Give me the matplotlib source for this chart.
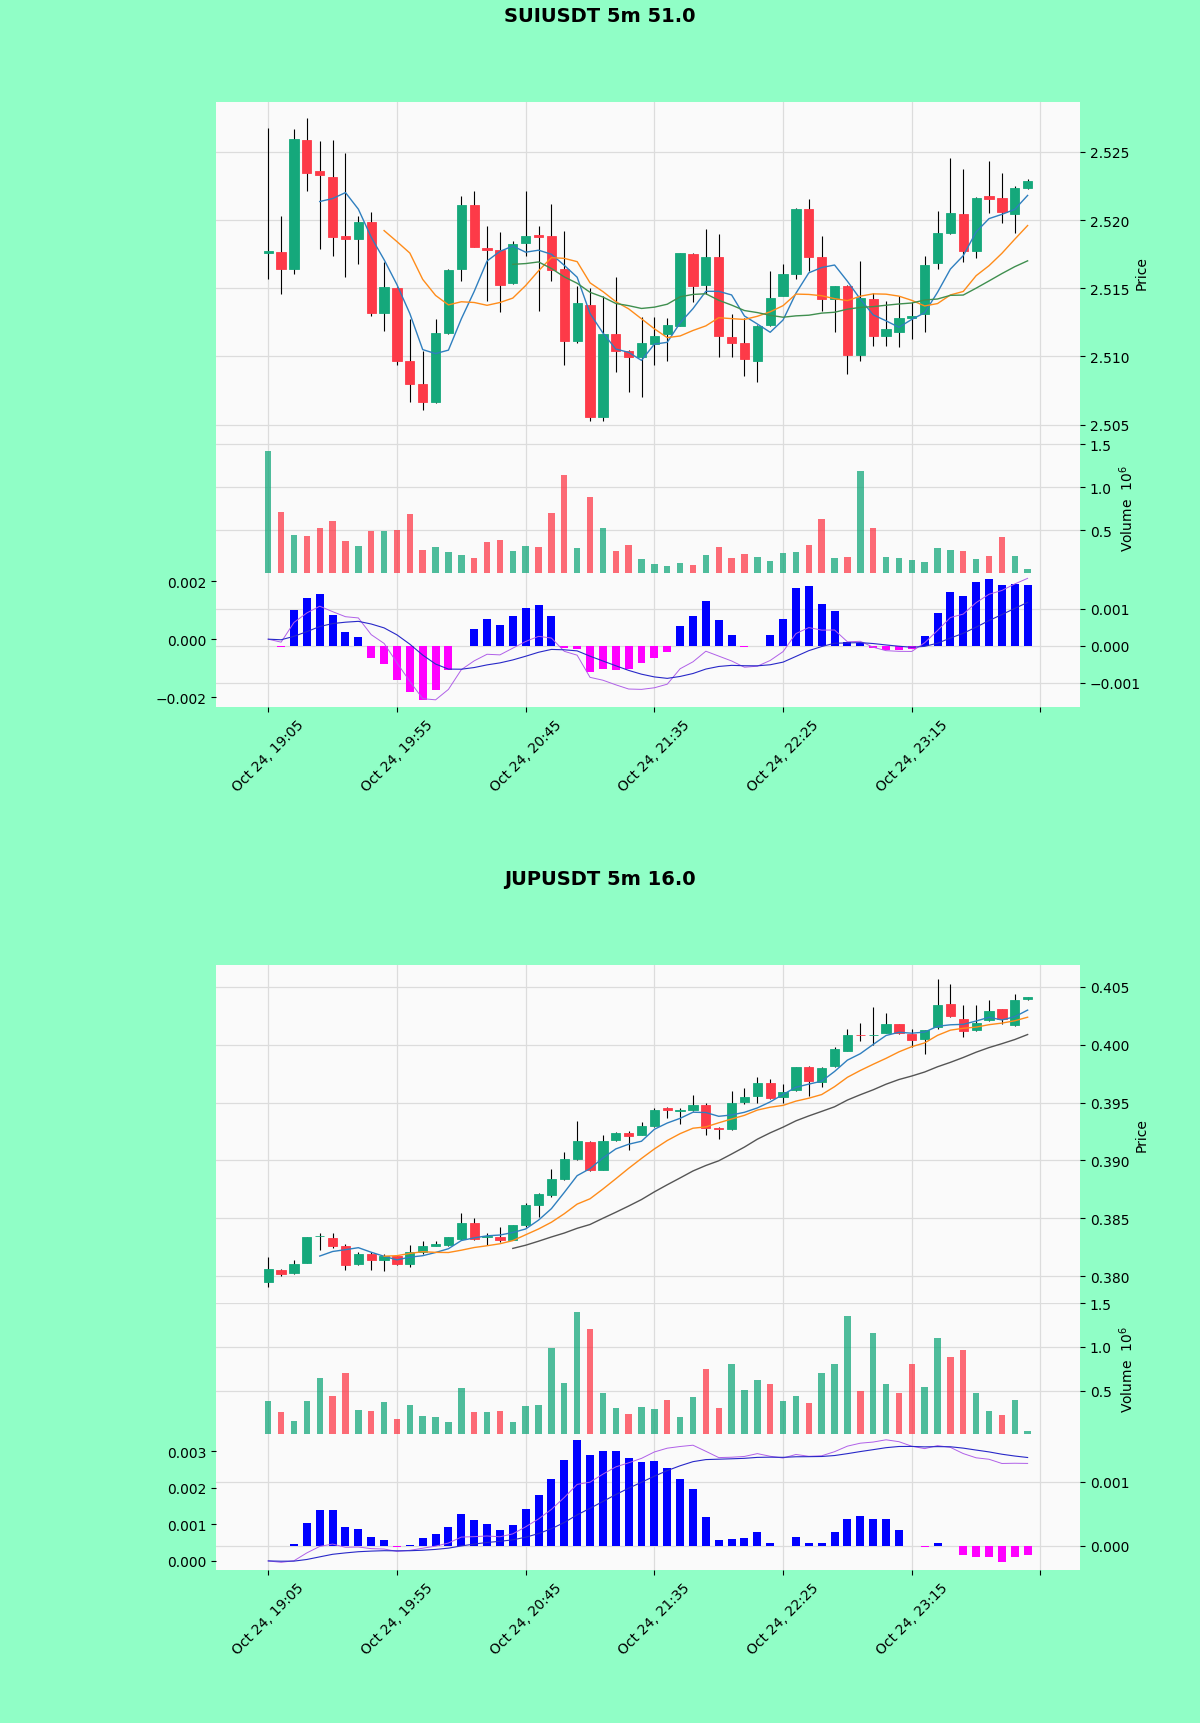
import numpy as np
import pandas as pd
import matplotlib
matplotlib.use('Agg')
import matplotlib.pyplot as plt

# ---------------- SUIUSDT 5m ----------------
sui_open = [2.51755, 2.51769, 2.51640, 2.52590, 2.52359, 2.52317, 2.51884, 2.51864, 2.51988, 2.51316,
            2.51499, 2.50970, 2.50800, 2.50666, 2.51170, 2.51640, 2.52108, 2.51798, 2.51781, 2.51535,
            2.51835, 2.51891, 2.51884, 2.51640, 2.51116, 2.51377, 2.50556, 2.51165, 2.51043, 2.50994,
            2.51092, 2.51165, 2.51226, 2.51750, 2.51523, 2.51730, 2.51141, 2.51097, 2.50963, 2.51231,
            2.51445, 2.51604, 2.52079, 2.51730, 2.51421, 2.51518, 2.51007, 2.51421, 2.51153, 2.51182,
            2.51285, 2.51311, 2.51684, 2.51903, 2.52047, 2.51774, 2.52176, 2.52164, 2.52047, 2.52237]
sui_high = [2.52675, 2.52030, 2.52668, 2.52748, 2.52578, 2.52590, 2.52493, 2.52030, 2.52059, 2.51689,
            2.51510, 2.51275, 2.51043, 2.51275, 2.51640, 2.52176, 2.52213, 2.51957, 2.51913, 2.51850,
            2.52213, 2.51957, 2.52115, 2.51920, 2.51520, 2.51500, 2.51445, 2.51579, 2.51050, 2.51287,
            2.51287, 2.51280, 2.51760, 2.51755, 2.51932, 2.51896, 2.51311, 2.51280, 2.51230, 2.51628,
            2.51677, 2.52085, 2.52152, 2.51884, 2.51520, 2.51525, 2.51701, 2.51465, 2.51409, 2.51445,
            2.51396, 2.51738, 2.52066, 2.52456, 2.52371, 2.52170, 2.52432, 2.52347, 2.52250, 2.52300]
sui_low = [2.51567, 2.51457, 2.51604, 2.52213, 2.51786, 2.51738, 2.51579, 2.51677, 2.51300, 2.51189,
           2.50934, 2.50666, 2.50605, 2.50660, 2.51165, 2.51555, 2.51800, 2.51409, 2.51323, 2.51530,
           2.51738, 2.51336, 2.51555, 2.50934, 2.51100, 2.50530, 2.50530, 2.50885, 2.50739, 2.50702,
           2.50934, 2.50970, 2.51220, 2.51396, 2.51457, 2.50994, 2.50994, 2.50860, 2.50812, 2.51225,
           2.51440, 2.51567, 2.51628, 2.51336, 2.51177, 2.50873, 2.50970, 2.51080, 2.51080, 2.51068,
           2.51128, 2.51177, 2.51640, 2.51900, 2.51689, 2.51725, 2.52054, 2.51981, 2.51908, 2.52225]
sui_close = [2.51770, 2.51640, 2.52595, 2.52347, 2.52327, 2.51879, 2.51859, 2.51988, 2.51316, 2.51506,
             2.50963, 2.50800, 2.50666, 2.51170, 2.51633, 2.52108, 2.51806, 2.51781, 2.51523, 2.51828,
             2.51884, 2.51879, 2.51633, 2.51116, 2.51392, 2.50556, 2.51165, 2.51043, 2.50994, 2.51097,
             2.51153, 2.51231, 2.51755, 2.51518, 2.51730, 2.51153, 2.51099, 2.50982, 2.51226, 2.51426,
             2.51604, 2.52079, 2.51730, 2.51421, 2.51518, 2.51007, 2.51426, 2.51153, 2.51202, 2.51282,
             2.51295, 2.51669, 2.51903, 2.52054, 2.51774, 2.52164, 2.52157, 2.52059, 2.52237, 2.52286]
sui_volume = [1.420, 0.713, 0.442, 0.434, 0.519, 0.608, 0.376, 0.318, 0.492, 0.484,
              0.500, 0.686, 0.267, 0.298, 0.240, 0.209, 0.174, 0.357, 0.384, 0.256,
              0.318, 0.298, 0.705, 1.140, 0.287, 0.890, 0.523, 0.252, 0.330, 0.163,
              0.105, 0.085, 0.112, 0.093, 0.213, 0.298, 0.174, 0.221, 0.182, 0.143,
              0.229, 0.240, 0.330, 0.628, 0.174, 0.182, 1.190, 0.523, 0.182, 0.174,
              0.151, 0.124, 0.291, 0.267, 0.252, 0.163, 0.194, 0.422, 0.194, 0.047]
sui_hist = [0.00000, -0.00004, 0.00098, 0.00129, 0.00141, 0.00084, 0.00037, 0.00024, -0.00034, -0.00050,
            -0.00092, -0.00126, -0.00147, -0.00119, -0.00065, 0.00000, 0.00045, 0.00072, 0.00057, 0.00081,
            0.00102, 0.00111, 0.00080, -0.00005, -0.00010, -0.00070, -0.00064, -0.00065, -0.00063, -0.00048,
            -0.00033, -0.00018, 0.00055, 0.00082, 0.00122, 0.00070, 0.00030, -0.00003, 0.00000, 0.00030,
            0.00073, 0.00158, 0.00161, 0.00114, 0.00093, 0.00009, 0.00007, -0.00006, -0.00012, -0.00012,
            -0.00010, 0.00027, 0.00089, 0.00145, 0.00134, 0.00172, 0.00182, 0.00166, 0.00168, 0.00166]

# ---------------- JUPUSDT 5m ----------------
jup_open = [0.37948, 0.38055, 0.38026, 0.38113, 0.38343, 0.38331, 0.38261, 0.38102, 0.38189, 0.38142,
            0.38171, 0.38108, 0.38209, 0.38261, 0.38273, 0.38325, 0.38461, 0.38340, 0.38340, 0.38316,
            0.38441, 0.38615, 0.38702, 0.38841, 0.39012, 0.39160, 0.38920, 0.39180, 0.39239, 0.39224,
            0.39296, 0.39450, 0.39430, 0.39436, 0.39480, 0.39282, 0.39268, 0.39505, 0.39557, 0.39665,
            0.39549, 0.39607, 0.39804, 0.39674, 0.39813, 0.39943, 0.40088, 0.40085, 0.40103, 0.40175,
            0.40094, 0.40050, 0.40152, 0.40355, 0.40219, 0.40129, 0.40210, 0.40306, 0.40172, 0.40393]
jup_high = [0.38166, 0.38064, 0.38137, 0.38340, 0.38374, 0.38374, 0.38282, 0.38209, 0.38209, 0.38195,
            0.38180, 0.38267, 0.38302, 0.38305, 0.38340, 0.38548, 0.38499, 0.38374, 0.38426, 0.38441,
            0.38630, 0.38717, 0.38925, 0.39070, 0.39340, 0.39166, 0.39224, 0.39244, 0.39253, 0.39334,
            0.39456, 0.39465, 0.39456, 0.39563, 0.39500, 0.39285, 0.39601, 0.39630, 0.39717, 0.39705,
            0.39659, 0.39810, 0.39819, 0.39804, 0.39978, 0.40137, 0.40187, 0.40326, 0.40274, 0.40181,
            0.40137, 0.40129, 0.40572, 0.40529, 0.40340, 0.40340, 0.40384, 0.40311, 0.40442, 0.40410]
jup_low = [0.37910, 0.37997, 0.38020, 0.38110, 0.38229, 0.38247, 0.38050, 0.38093, 0.38055, 0.38044,
           0.38093, 0.38079, 0.38195, 0.38258, 0.38258, 0.38316, 0.38316, 0.38267, 0.38296, 0.38311,
           0.38427, 0.38514, 0.38688, 0.38833, 0.39006, 0.38911, 0.38914, 0.39166, 0.39093, 0.39220,
           0.39290, 0.39369, 0.39311, 0.39427, 0.39224, 0.39181, 0.39265, 0.39485, 0.39494, 0.39534,
           0.39494, 0.39600, 0.39560, 0.39639, 0.39804, 0.39943, 0.40030, 0.40001, 0.40100, 0.40094,
           0.39978, 0.39920, 0.40140, 0.40240, 0.40065, 0.40123, 0.40201, 0.40181, 0.40166, 0.40390]
jup_close = [0.38064, 0.38015, 0.38108, 0.38334, 0.38347, 0.38261, 0.38093, 0.38195, 0.38137, 0.38171,
             0.38108, 0.38209, 0.38258, 0.38276, 0.38334, 0.38461, 0.38325, 0.38346, 0.38311, 0.38441,
             0.38615, 0.38708, 0.38841, 0.39012, 0.39166, 0.38920, 0.39166, 0.39233, 0.39215, 0.39296,
             0.39436, 0.39436, 0.39436, 0.39480, 0.39282, 0.39273, 0.39494, 0.39552, 0.39668, 0.39543,
             0.39595, 0.39804, 0.39688, 0.39795, 0.39963, 0.40085, 0.40082, 0.40088, 0.40181, 0.40103,
             0.40045, 0.40129, 0.40340, 0.40245, 0.40123, 0.40187, 0.40291, 0.40225, 0.40384, 0.40410]
jup_volume = [0.377, 0.250, 0.146, 0.385, 0.638, 0.442, 0.704, 0.273, 0.269, 0.365,
              0.177, 0.338, 0.212, 0.196, 0.135, 0.531, 0.254, 0.254, 0.262, 0.135,
              0.327, 0.331, 0.992, 0.588, 1.396, 1.204, 0.473, 0.300, 0.231, 0.312,
              0.288, 0.396, 0.196, 0.427, 0.742, 0.300, 0.808, 0.504, 0.619, 0.577,
              0.377, 0.435, 0.358, 0.704, 0.808, 1.358, 0.500, 1.165, 0.577, 0.473,
              0.808, 0.538, 1.108, 0.885, 0.965, 0.473, 0.269, 0.223, 0.396, 0.031]
jup_hist = [0.00000, -0.00001, 0.00002, 0.00036, 0.00056, 0.00056, 0.00029, 0.00026, 0.00013, 0.00009,
            -0.00002, 0.00001, 0.00012, 0.00019, 0.00029, 0.00049, 0.00041, 0.00034, 0.00025, 0.00033,
            0.00058, 0.00080, 0.00105, 0.00135, 0.00165, 0.00142, 0.00149, 0.00149, 0.00137, 0.00131,
            0.00132, 0.00121, 0.00105, 0.00089, 0.00045, 0.00009, 0.00010, 0.00012, 0.00021, 0.00005,
            -0.00001, 0.00013, 0.00004, 0.00004, 0.00021, 0.00042, 0.00046, 0.00042, 0.00042, 0.00025,
            0.00000, -0.00002, 0.00005, -0.00001, -0.00015, -0.00018, -0.00017, -0.00026, -0.00018, -0.00015]

tick_pos = [0, 10, 20, 30, 40, 50, 60]
tick_labels = ['Oct 24, 19:05', 'Oct 24, 19:55', 'Oct 24, 20:45',
               'Oct 24, 21:35', 'Oct 24, 22:25', 'Oct 24, 23:15', '']

UP = '#15a87b'
DOWN = '#fd3a48'
BG = '#90fec6'
PANEL = '#fafafa'
GRID = '#dcdcdc'

fig = plt.figure(figsize=(12, 17.24), dpi=100, facecolor=BG)

LEFT = 0.18
WIDTH = 0.72
XLIM = (-4.06, 63.07)


def fmt(vals):
    return [f'{t:.3f}'.replace('-', '\u2212') for t in vals]


def base_axis(ax):
    ax.set_facecolor(PANEL)
    for s in ax.spines.values():
        s.set_visible(False)
    ax.set_xlim(*XLIM)
    ax.set_xticks(tick_pos)
    ax.grid(True, color=GRID, linewidth=0.9)
    ax.set_axisbelow(True)
    ax.yaxis.tick_right()
    ax.yaxis.set_label_position('right')


def draw_chart(title, title_y, rects, o, h, l, c, v, hist, price_ticks, price_lim,
               vol_lim, hist_ticks, hist_lim, line_ticks, line_lim, ma_colors):
    o, h, l, c, v, hist = map(np.asarray, (o, h, l, c, v, hist))
    x = np.arange(len(c))
    up = c >= o
    colors = np.where(up, UP, DOWN)

    fig.text(0.5, title_y, title, ha='center', va='center',
             fontsize=14, fontweight='bold')

    # price panel
    ax = fig.add_axes(rects[0])
    base_axis(ax)
    ax.vlines(x, l, h, color='black', linewidth=0.8, zorder=2)
    ax.bar(x, c - o, bottom=o, width=0.72, color=colors, edgecolor=colors,
           linewidth=0.6, zorder=3)
    closes = pd.Series(c)
    for n, col in zip((5, 10, 20), ma_colors):
        ax.plot(x, closes.rolling(n).mean(), color=col, linewidth=1.0, zorder=4)
    ax.set_ylim(*price_lim)
    ax.set_yticks(price_ticks)
    ax.set_yticklabels(fmt(price_ticks))
    ax.set_ylabel('Price')
    ax.tick_params(axis='x', length=0, labelbottom=False)

    # volume panel
    axv = fig.add_axes(rects[1])
    base_axis(axv)
    axv.bar(x, v, width=0.5, color=colors, alpha=0.75, zorder=3)
    axv.set_ylim(*vol_lim)
    axv.set_yticks([0.5, 1.0, 1.5])
    axv.set_ylabel('Volume  $10^{6}$')
    axv.tick_params(axis='x', length=0, labelbottom=False)

    # macd panel: histogram on the right axis, dif/dea lines on the left
    ema12 = closes.ewm(span=12, adjust=False).mean()
    ema26 = closes.ewm(span=26, adjust=False).mean()
    dif = ema12 - ema26
    dea = dif.ewm(span=9, adjust=False).mean()

    axm = fig.add_axes(rects[2])
    base_axis(axm)
    axm.bar(x, hist, width=0.62, color=np.where(hist >= 0, 'blue', 'magenta'), zorder=3)

    axl = axm.twinx()
    for s in axl.spines.values():
        s.set_visible(False)
    axl.plot(x, dif, color='#b060e8', linewidth=0.7)
    axl.plot(x, dea, color='#2828c8', linewidth=0.8)
    axl.set_ylim(*line_lim)
    axl.set_yticks(line_ticks)
    axl.set_yticklabels(fmt(line_ticks))
    axl.yaxis.tick_left()
    axl.set_xlim(*XLIM)

    axm.yaxis.tick_right()
    axm.set_ylim(*hist_lim)
    axm.set_yticks(hist_ticks)
    axm.set_yticklabels(fmt(hist_ticks))
    axm.set_xticks(tick_pos)
    axm.set_xticklabels(tick_labels, rotation=45)


draw_chart('SUIUSDT 5m 51.0', 0.9903,
           [[LEFT, 0.7425, WIDTH, 0.1978], [LEFT, 0.6671, WIDTH, 0.0754],
            [LEFT, 0.5893, WIDTH, 0.0778]],
           sui_open, sui_high, sui_low, sui_close, sui_volume, sui_hist,
           [2.505, 2.510, 2.515, 2.520, 2.525], (2.50366, 2.52866),
           (0, 1.517), [-0.001, 0.0, 0.001], (-0.001661, 0.001976),
           [-0.002, 0.0, 0.002], (-0.002346, 0.00229),
           ['#2f7fbf', '#ff8c1a', '#3f8f4f'])

draw_chart('JUPUSDT 5m 16.0', 0.4901,
           [[LEFT, 0.2439, WIDTH, 0.1959], [LEFT, 0.1676, WIDTH, 0.0763],
            [LEFT, 0.0887, WIDTH, 0.0789]],
           jup_open, jup_high, jup_low, jup_close, jup_volume, jup_hist,
           [0.380, 0.385, 0.390, 0.395, 0.400, 0.405], (0.37772, 0.40691),
           (0, 1.51), [0.0, 0.001], (-0.000382, 0.001749),
           [0.0, 0.001, 0.002, 0.003], (-0.00025, 0.003463),
           ['#2f7fbf', '#ff8c1a', '#555555'])

fig.savefig('out.png', dpi=100, facecolor=BG)
